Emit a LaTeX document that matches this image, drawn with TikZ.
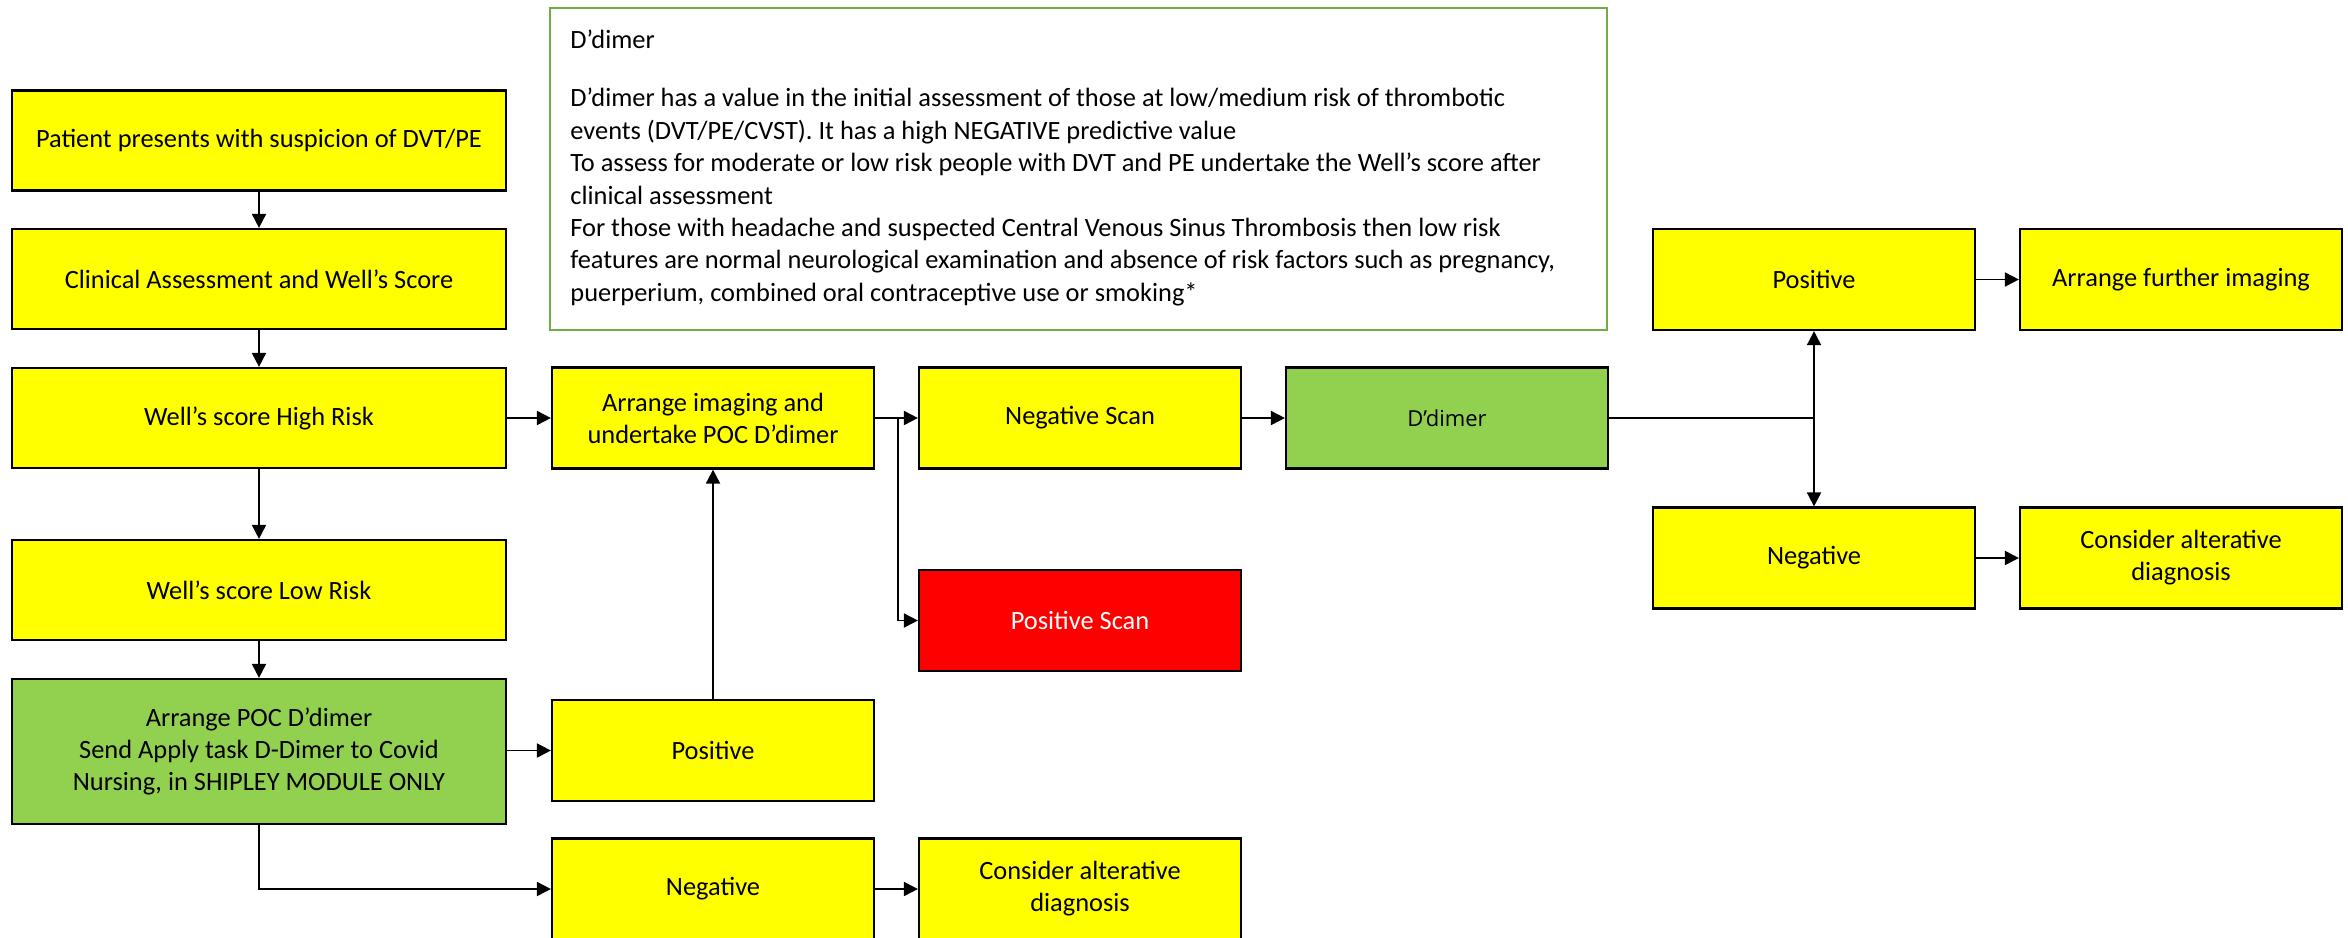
\documentclass[tikz,border=0pt]{standalone}
\usepackage{fontspec}
\setmainfont{Carlito}
\newfontfamily\labelsans{Open Sans}
\usetikzlibrary{arrows.meta}
\definecolor{boxyellow}{HTML}{FFFF00}
\definecolor{boxgreen}{HTML}{92D050}
\definecolor{boxred}{HTML}{FF0000}
\definecolor{framegreen}{HTML}{70AD47}
\tikzset{
  base/.style={draw=black, line width=1.1pt, align=center, inner sep=0pt,
    font=\fontsize{13.2}{16}\selectfont},
  wide/.style={base, minimum width=247pt, minimum height=50pt},
  narrow/.style={base, minimum width=161pt, minimum height=50.5pt},
  yel/.style={fill=boxyellow},
  grn/.style={fill=boxgreen},
  rd/.style={fill=boxred, text=white},
  arrow/.style={line width=0.9pt, -{Triangle[length=7pt,width=7pt]}},
}
\begin{document}
\begin{tikzpicture}[x=0.5pt,y=-0.5pt]
\useasboundingbox[fill=white] (0,0) rectangle (2348,937);
% left column
\node[wide,yel] (p1) at (259,140.5) {Patient presents with suspicion of DVT/PE};
\node[wide,yel] (p2) at (259,279) {Clinical Assessment and Well’s Score};
\node[wide,yel] (high) at (259,418) {Well’s score High Risk};
\node[wide,yel] (low) at (259,590) {Well’s score Low Risk};
\node[wide,grn,minimum height=72.5pt] (poc) at (259,751.5) {Arrange POC D’dimer\\Send Apply task D-Dimer to Covid\\Nursing, in SHIPLEY MODULE ONLY};
% second column
\node[narrow,yel] (arr) at (713,418) {Arrange imaging and\\undertake POC D’dimer};
\node[narrow,yel] (posL) at (713,750.5) {Positive};
\node[narrow,yel] (negL) at (713,889) {Negative};
% third column
\node[narrow,yel] (negscan) at (1080,418) {Negative Scan};
\node[narrow,rd] (posscan) at (1080,620.5) {Positive Scan};
\node[narrow,yel] (cons1) at (1080,889) {Consider alterative\\diagnosis};
% fourth column
\node[narrow,grn,font=\labelsans\fontsize{11}{14}\selectfont] (dd) at (1447,418) {D’dimer};
% right columns
\node[narrow,yel] (posR) at (1814,279.5) {Positive};
\node[narrow,yel] (further) at (2181,279.5) {Arrange further imaging};
\node[narrow,yel] (negR) at (1814,558) {Negative};
\node[narrow,yel] (cons2) at (2181,558) {Consider alterative\\diagnosis};
% info box
\node[draw=framegreen, line width=1pt, minimum width=528.5pt, minimum height=161pt, inner sep=0pt] (info) at (1078.5,169) {};
\node[anchor=north west, align=left, inner sep=0pt, font=\fontsize{13.2}{16.2}\selectfont] (infotext) at (570,29.5) {D’dimer\\[13pt]
D’dimer has a value in the initial assessment of those at low/medium risk of thrombotic\\
events (DVT/PE/CVST). It has a high NEGATIVE predictive value\\
To assess for moderate or low risk people with DVT and PE undertake the Well’s score after\\
clinical assessment\\
For those with headache and suspected Central Venous Sinus Thrombosis then low risk\\
features are normal neurological examination and absence of risk factors such as pregnancy,\\
puerperium, combined oral contraceptive use or smoking*};
% connectors
\draw[arrow] (p1) -- (p2);
\draw[arrow] (p2) -- (high);
\draw[arrow] (high) -- (low);
\draw[arrow] (low) -- (poc);
\draw[arrow] (high) -- (arr);
\draw[arrow] (poc.east |- posL.west) -- (posL.west);
\draw[arrow] (poc.south) |- (negL.west);
\draw[arrow] (posL.north) -- (arr.south);
\draw[arrow] (arr.east) -- (negscan.west);
\coordinate (br) at ([xshift=11.5pt]arr.east);
\draw[arrow] (br) |- (posscan.west);
\draw[arrow] (negL) -- (cons1);
\draw[arrow] (negscan) -- (dd);
\draw[arrow] (dd.east) -| (posR.south);
\draw[arrow] (dd.east) -| (negR.north);
\draw[arrow] (posR) -- (further);
\draw[arrow] (negR) -- (cons2);
\end{tikzpicture}
\end{document}
